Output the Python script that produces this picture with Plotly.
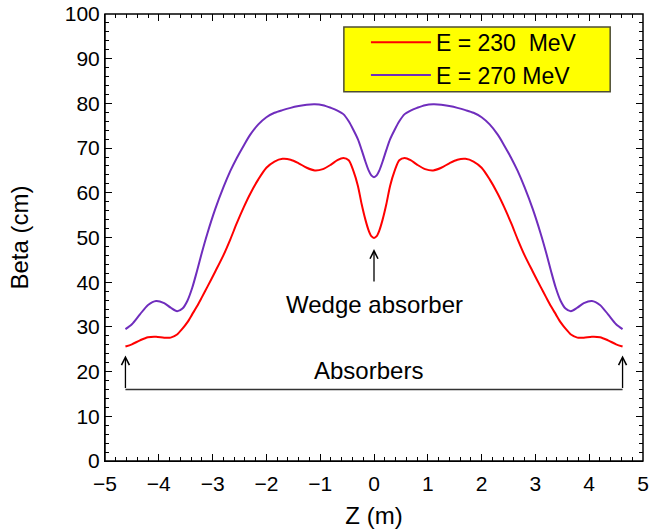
import plotly.graph_objects as go

# ---- data ----
z_m = [-4.62, -4.5, -4.35, -4.2, -4.05, -3.9, -3.78, -3.66, -3.56, -3.47, -3.38, -3.29, -3.2, -3.1,
       -2.95, -2.8, -2.67, -2.55, -2.42, -2.3, -2.15, -2.0, -1.85, -1.7, -1.55, -1.4, -1.25, -1.1,
       -0.95, -0.8, -0.68, -0.57, -0.47, -0.38, -0.3, -0.23, -0.16, -0.1, -0.05, 0.0,
       0.05, 0.1, 0.16, 0.23, 0.3, 0.38, 0.47, 0.57, 0.68, 0.8, 0.95, 1.1, 1.25, 1.4, 1.55, 1.7,
       1.85, 2.0, 2.15, 2.3, 2.42, 2.55, 2.67, 2.8, 2.95, 3.1, 3.2, 3.29, 3.38, 3.47, 3.56, 3.66,
       3.78, 3.9, 4.05, 4.2, 4.35, 4.5, 4.62]

beta_230 = [25.6, 26.1, 27.0, 27.7, 27.8, 27.6, 27.6, 28.3, 29.6, 31.0, 32.8, 34.6, 36.6, 38.9,
            42.4, 46.0, 49.6, 53.2, 56.8, 59.8, 63.0, 65.6, 67.0, 67.6, 67.4, 66.6, 65.6, 65.0,
            65.3, 66.3, 67.3, 67.8, 67.3, 64.8, 61.6, 57.5, 54.0, 51.6, 50.3, 49.9,
            50.3, 51.6, 54.0, 57.5, 61.6, 64.8, 67.3, 67.8, 67.3, 66.3, 65.3, 65.0, 65.6, 66.6,
            67.4, 67.6, 67.0, 65.6, 63.0, 59.8, 56.8, 53.2, 49.6, 46.0, 42.4, 38.9, 36.6, 34.6,
            32.8, 31.0, 29.6, 28.3, 27.6, 27.6, 27.8, 27.7, 27.0, 26.1, 25.6]

beta_270 = [29.5, 30.6, 32.8, 34.9, 35.8, 35.3, 34.3, 33.5, 34.1, 35.8, 38.7, 42.5, 46.6, 50.8,
            56.4, 61.2, 64.9, 67.8, 70.6, 73.0, 75.3, 76.9, 77.9, 78.5, 79.0, 79.4, 79.7, 79.8,
            79.6, 79.0, 78.4, 77.6, 76.0, 74.0, 72.0, 69.6, 67.0, 65.0, 63.9, 63.5,
            63.9, 65.0, 67.0, 69.6, 72.0, 74.0, 76.0, 77.6, 78.4, 79.0, 79.6, 79.8, 79.7, 79.4,
            79.0, 78.5, 77.9, 76.9, 75.3, 73.0, 70.6, 67.8, 64.9, 61.2, 56.4, 50.8, 46.6, 42.5,
            38.7, 35.8, 34.1, 33.5, 34.3, 35.3, 35.8, 34.9, 32.8, 30.6, 29.5]

series_names = ["E = 230\u00a0\u00a0MeV", "E = 270 MeV"]
series_colors = ["#ff0000", "#6f2dbd"]

FONT = "Liberation Sans, Arial, Helvetica, sans-serif"

fig = go.Figure()
for name, vals, col in zip(series_names, [beta_230, beta_270], series_colors):
    fig.add_trace(go.Scatter(x=z_m, y=vals, mode="lines", name=name,
                             line=dict(color=col, width=2, shape="spline", smoothing=0.8)))

# empty helper trace so the top / right tick axes are drawn
fig.add_trace(go.Scatter(x=[], y=[], xaxis="x2", yaxis="y2", showlegend=False,
                         hoverinfo="skip", mode="lines"))

tick_style = dict(ticks="inside", ticklen=7, tickwidth=1, tickcolor="#000000",
                  showgrid=False, zeroline=False, automargin=False)

fig.update_layout(
    xaxis=dict(
        range=[-5, 5], dtick=1, tick0=-5,
        showline=True, linecolor="#000000", linewidth=1,
        minor=dict(dtick=0.2, ticklen=4, ticks="inside", tickcolor="#000000", tickwidth=1),
        tickfont=dict(family=FONT, size=21, color="black"),
        ticklabelstandoff=4,
        title=dict(text="Z (m)", font=dict(family=FONT, size=24, color="black"), standoff=12),
        **tick_style),
    yaxis=dict(
        range=[0, 100], dtick=10, tick0=0,
        showline=True, linecolor="#000000", linewidth=1,
        minor=dict(dtick=2, ticklen=4, ticks="inside", tickcolor="#000000", tickwidth=1),
        tickfont=dict(family=FONT, size=21, color="black"),
        title=dict(text="Beta (cm)", font=dict(family=FONT, size=24, color="black"), standoff=29),
        **tick_style),
    xaxis2=dict(
        range=[-5, 5], dtick=1, tick0=-5, overlaying="x", side="top", anchor="y2",
        showticklabels=False,
        minor=dict(dtick=0.2, ticklen=4, ticks="inside", tickcolor="#000000", tickwidth=1),
        **tick_style),
    yaxis2=dict(
        range=[0, 100], dtick=10, tick0=0, overlaying="y", side="right", anchor="x2",
        showticklabels=False,
        minor=dict(dtick=2, ticklen=4, ticks="inside", tickcolor="#000000", tickwidth=1),
        **tick_style),
)

# plot frame
fig.add_shape(type="rect", xref="paper", yref="paper", x0=0, x1=1, y0=0, y1=1,
              line=dict(color="black", width=1.5), fillcolor="rgba(0,0,0,0)", layer="above")

# Legend box (yellow) behind the legend entries
fig.add_shape(type="rect", xref="paper", yref="paper", x0=0.444, x1=0.939, y0=0.826, y1=0.971,
              fillcolor="#ffff00", line=dict(color="#4d4d33", width=1.5), layer="above")

# "Absorbers" bracket
fig.add_shape(type="line", xref="x", yref="y", x0=-4.62, x1=4.62, y0=16, y1=16,
              line=dict(color="#333333", width=1.5), layer="above")
for xe in [-4.62, 4.62]:
    fig.add_annotation(x=xe, y=23.6, ax=xe, ay=16, xref="x", yref="y", axref="x", ayref="y",
                       text="", showarrow=True, arrowhead=5, arrowsize=1.2, arrowwidth=1.3,
                       arrowcolor="black")
fig.add_annotation(x=-0.1, y=20.3, xref="x", yref="y", text="Absorbers", showarrow=False,
                   font=dict(family=FONT, size=24, color="black"))

# Wedge absorber arrow & label
fig.add_annotation(x=0, y=47.4, ax=0, ay=39.8, xref="x", yref="y", axref="x", ayref="y",
                   text="", showarrow=True, arrowhead=5, arrowsize=1.2, arrowwidth=1.3,
                   arrowcolor="black")
fig.add_annotation(x=0, y=35.0, xref="x", yref="y", text="Wedge absorber", showarrow=False,
                   font=dict(family=FONT, size=24, color="black"))

fig.update_layout(
    width=654, height=531,
    margin=dict(l=105, r=11, t=14, b=70),
    paper_bgcolor="white", plot_bgcolor="white",
    showlegend=True,
    legend=dict(x=0.485, y=0.985, xanchor="left", yanchor="top",
                bgcolor="rgba(0,0,0,0)", borderwidth=0, itemwidth=60,
                font=dict(family=FONT, size=23, color="black"),
                tracegroupgap=0),
)

fig.write_html("out.html")
